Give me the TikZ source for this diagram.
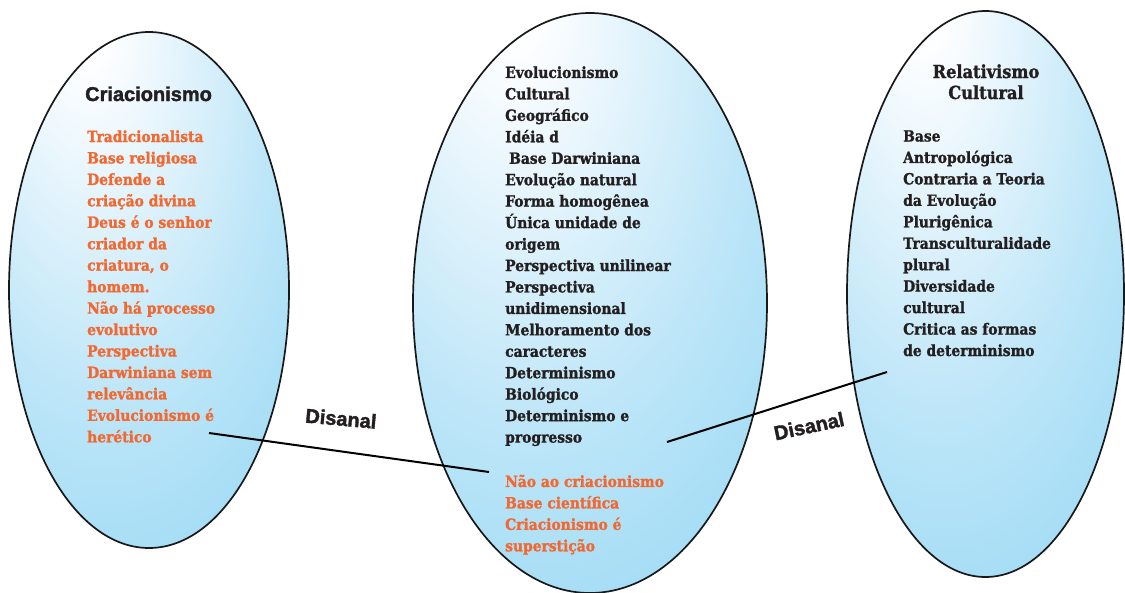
\documentclass[tikz,border=0pt]{standalone}
\usepackage{fontspec}
\setmainfont{DejaVu Serif}
\newfontfamily\listfont{DejaVu Serif}[FakeStretch=0.9, BoldFeatures={FakeBold=1.3}]
\newfontfamily\headsans{Liberation Sans}[BoldFeatures={FakeBold=1.8}]
\definecolor{inktxt}{RGB}{35,31,32}
\definecolor{orangetxt}{RGB}{242,104,48}
\definecolor{ballA}{RGB}{236,247,253}
\definecolor{ballB}{RGB}{190,230,248}
\definecolor{ballC}{RGB}{148,215,244}
\definecolor{ballD}{RGB}{120,205,242}
\pgfdeclareradialshading{ballshade}{\pgfpoint{-12bp}{28bp}}{%
  color(0bp)=(white); color(4bp)=(white); color(12bp)=(ballA);
  color(30bp)=(ballB); color(52bp)=(ballC); color(75bp)=(ballD);
  color(100bp)=(ballD)}
\tikzset{
  ball/.style={draw=black!90, line width=1.7pt, shading=ballshade},
  listtext/.style={anchor=base west, inner sep=0pt, align=left,
    font=\listfont\bfseries\fontsize{15.4}{21.45}\selectfont},
  headtext/.style={inner sep=0pt, align=center,
    font=\listfont\bfseries\fontsize{18}{21}\selectfont, text=inktxt},
  linklabel/.style={inner sep=0pt, text=inktxt,
    font=\headsans\bfseries\fontsize{20}{24}\selectfont},
  link/.style={line width=2pt, black}
}
\begin{document}
\begin{tikzpicture}[x=1pt,y=-1pt]
\useasboundingbox (0,0) rectangle (1125,592);
\fill[white] (0,0) rectangle (1125,592);

% the three ovals
\path[ball] (149,290) ellipse [x radius=140, y radius=258];
\path[ball] (590,303) ellipse [x radius=177, y radius=290];
\path[ball] (985.5,294) ellipse [x radius=138.5, y radius=283];

% left oval (multi-line nodes are placed by the baseline of their last line)
\node[anchor=base west, inner sep=0pt, text=inktxt,
  font=\headsans\bfseries\fontsize{20}{22}\selectfont] (crtitle) at (85,101) {Criacionismo};
\node[listtext, text=orangetxt] (crlist) at (87,442.3) {Tradicionalista\\Base religiosa\\Defende a\\criação divina\\Deus é o senhor\\criador da\\criatura, o\\homem.\\Não há processo\\evolutivo\\Perspectiva\\Darwiniana sem\\relevância\\Evolucionismo é\\herético};

% middle oval
\node[listtext, text=inktxt] (evlist) at (505,442.6) {Evolucionismo\\Cultural\\Geográfico\\Idéia d\\\hspace{4pt}Base Darwiniana\\Evolução natural\\Forma homogênea\\Única unidade de\\origem\\Perspectiva unilinear\\Perspectiva\\unidimensional\\Melhoramento dos\\caracteres\\Determinismo\\Biológico\\Determinismo e\\progresso};
\node[listtext, text=orangetxt] (evorange) at (505,551.3) {Não ao criacionismo\\Base científica\\Criacionismo é\\superstição};

% right oval
\node[headtext, anchor=base] (reltitle) at (986,99) {Relativismo\\Cultural};
\node[listtext, text=inktxt] (rellist) at (903,356) {Base\\Antropológica\\Contraria a Teoria\\da Evolução\\Plurigênica\\Transculturalidade\\plural\\Diversidade\\cultural\\Critica as formas\\de determinismo};

% connectors
\coordinate (la) at (209,433);
\coordinate (lb) at (489,472);
\coordinate (ra) at (667,442);
\coordinate (rb) at (887,372);
\draw[link] (la) -- (lb);
\draw[link] (ra) -- (rb);
\node[linklabel, rotate=-5] (lablA) at (341,418.5) {Disanal};
\node[linklabel, rotate=12] (lablB) at (809,426) {Disanal};
\end{tikzpicture}
\end{document}
